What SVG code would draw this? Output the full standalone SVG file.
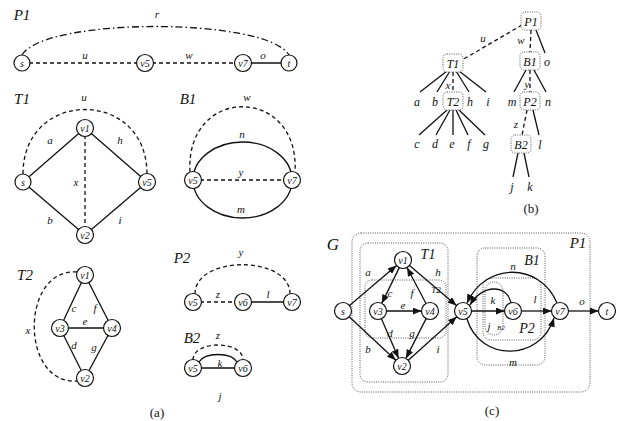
<svg xmlns="http://www.w3.org/2000/svg" width="619" height="421" viewBox="0 0 619 421">
<style>
.n circle{fill:#fff;stroke:#111;stroke-width:1.2}
.n text,.t{font-family:"Liberation Serif",serif;font-style:italic;fill:#111;text-anchor:middle}
.n text{font-size:10px}
.tn text{font-size:12px}
.e{fill:none;stroke:#111;stroke-width:1.3}
.d{stroke-dasharray:4,3}
.dd{stroke-dasharray:7,3,1.5,3}
.box{fill:#fff;stroke:#555;stroke-width:1;stroke-dasharray:1,1.3}
.cl{fill:none;stroke:#555;stroke-width:1;stroke-dasharray:1,1.3}
.l{font-size:11px}
.s{font-size:15px}
.cap{font-family:"Liberation Serif",serif;font-size:13px;fill:#111;text-anchor:middle}
</style>
<defs>
<marker id="ar" viewBox="0 0 10 8" refX="10" refY="4" markerWidth="9" markerHeight="7" markerUnits="userSpaceOnUse" orient="auto"><path d="M0,0 L10,4 L0,8 z" fill="#111"/></marker>
</defs>
<rect width="619" height="421" fill="#fff"/>

<!-- ========== (a) ========== -->
<g id="a-labels">
<text class="t s" x="22" y="20">P1</text>
<text class="t l" x="157" y="18">r</text>
<text class="t l" x="85" y="59">u</text>
<text class="t l" x="189" y="59">w</text>
<text class="t l" x="263" y="59">o</text>
<text class="t s" x="22" y="104">T1</text>
<text class="t l" x="84" y="101">u</text>
<text class="t l" x="50" y="144">a</text>
<text class="t l" x="120" y="144">h</text>
<text class="t l" x="76" y="186">x</text>
<text class="t l" x="50" y="224">b</text>
<text class="t l" x="120" y="224">i</text>
<text class="t s" x="188" y="104">B1</text>
<text class="t l" x="247" y="101">w</text>
<text class="t l" x="242" y="138">n</text>
<text class="t l" x="241" y="176">y</text>
<text class="t l" x="241" y="213">m</text>
<text class="t s" x="25" y="280">T2</text>
<text class="t l" x="74" y="312">c</text>
<text class="t l" x="95" y="312">f</text>
<text class="t l" x="85" y="325">e</text>
<text class="t l" x="74" y="349">d</text>
<text class="t l" x="94" y="351">g</text>
<text class="t l" x="28" y="334">x</text>
<text class="t s" x="182" y="263">P2</text>
<text class="t l" x="241" y="256">y</text>
<text class="t l" x="218" y="298">z</text>
<text class="t l" x="268" y="298">l</text>
<text class="t s" x="192" y="343">B2</text>
<text class="t l" x="218" y="339">z</text>
<text class="t l" x="220" y="367">k</text>
<text class="t l" x="220" y="400">j</text>
<text class="cap" x="157" y="417">(a)</text>
</g>

<g id="a-connectors">
<path class="e dd" d="M22,55 C45,17 266,17 289,55"/>
<line class="e d" x1="22" y1="63" x2="145" y2="63"/>
<line class="e d" x1="145" y1="63" x2="243" y2="63"/>
<line class="e" x1="243" y1="63" x2="289" y2="63"/>
<path class="e d" d="M23,174 C23,88 147,88 147,174"/>
<line class="e" x1="23" y1="182" x2="85" y2="128"/>
<line class="e" x1="85" y1="128" x2="147" y2="182"/>
<line class="e" x1="23" y1="182" x2="85" y2="235"/>
<line class="e" x1="85" y1="235" x2="147" y2="182"/>
<line class="e d" x1="85" y1="128" x2="85" y2="235"/>
<path class="e d" d="M190,172 C185,85 300,85 295,172"/>
<ellipse class="e" cx="242.5" cy="180" rx="49.5" ry="38"/>
<line class="e d" x1="193" y1="180" x2="292" y2="180"/>
<path class="e d" d="M77,272 C20,268 20,385 77,381"/>
<line class="e" x1="85" y1="275" x2="60" y2="328"/>
<line class="e" x1="85" y1="275" x2="112" y2="328"/>
<line class="e" x1="60" y1="328" x2="112" y2="328"/>
<line class="e" x1="60" y1="328" x2="85" y2="378"/>
<line class="e" x1="112" y1="328" x2="85" y2="378"/>
<path class="e d" d="M195,294 C195,255 290,255 290,294"/>
<line class="e d" x1="193" y1="302" x2="243" y2="302"/>
<line class="e" x1="243" y1="302" x2="292" y2="302"/>
<path class="e d" d="M193,360 C193,340 243,340 243,360"/>
<path class="e" d="M199,362 C205,352 231,352 237,362"/>
<line class="e" x1="193" y1="368" x2="243" y2="368"/>
</g>

<g id="a-p1-s" class="n"><circle cx="22" cy="63" r="8"/><text x="22" y="66.5">s</text></g>
<g id="a-p1-v5" class="n"><circle cx="145" cy="63" r="8.5"/><text x="145" y="66.5">v5</text></g>
<g id="a-p1-v7" class="n"><circle cx="243" cy="63" r="8.5"/><text x="243" y="66.5">v7</text></g>
<g id="a-p1-t" class="n"><circle cx="289" cy="63" r="8"/><text x="289" y="66.5">t</text></g>
<g id="a-t1-s" class="n"><circle cx="23" cy="182" r="8"/><text x="23" y="185.5">s</text></g>
<g id="a-t1-v1" class="n"><circle cx="85" cy="128" r="8.5"/><text x="85" y="131.5">v1</text></g>
<g id="a-t1-v5" class="n"><circle cx="147" cy="182" r="8.5"/><text x="147" y="185.5">v5</text></g>
<g id="a-t1-v2" class="n"><circle cx="85" cy="235" r="8.5"/><text x="85" y="238.5">v2</text></g>
<g id="a-b1-v5" class="n"><circle cx="193" cy="180" r="8.5"/><text x="193" y="183.5">v5</text></g>
<g id="a-b1-v7" class="n"><circle cx="292" cy="180" r="8.5"/><text x="292" y="183.5">v7</text></g>
<g id="a-t2-v1" class="n"><circle cx="85" cy="275" r="8.5"/><text x="85" y="278.5">v1</text></g>
<g id="a-t2-v3" class="n"><circle cx="60" cy="328" r="8.5"/><text x="60" y="331.5">v3</text></g>
<g id="a-t2-v4" class="n"><circle cx="112" cy="328" r="8.5"/><text x="112" y="331.5">v4</text></g>
<g id="a-t2-v2" class="n"><circle cx="85" cy="378" r="8.5"/><text x="85" y="381.5">v2</text></g>
<g id="a-p2-v5" class="n"><circle cx="193" cy="302" r="8.5"/><text x="193" y="305.5">v5</text></g>
<g id="a-p2-v6" class="n"><circle cx="243" cy="302" r="8.5"/><text x="243" y="305.5">v6</text></g>
<g id="a-p2-v7" class="n"><circle cx="292" cy="302" r="8.5"/><text x="292" y="305.5">v7</text></g>
<g id="a-b2-v5" class="n"><circle cx="193" cy="368" r="8.5"/><text x="193" y="371.5">v5</text></g>
<g id="a-b2-v6" class="n"><circle cx="243" cy="368" r="8.5"/><text x="243" y="371.5">v6</text></g>

<!-- ========== (b) ========== -->
<g id="b-connectors">
<line class="e d" x1="522" y1="25" x2="462" y2="60"/>
<line class="e d" x1="531" y1="30" x2="530" y2="52"/>
<line class="e" x1="536" y1="30" x2="545" y2="53"/>
<line class="e" x1="447" y1="71" x2="420" y2="92"/>
<line class="e" x1="450" y1="71" x2="437" y2="92"/>
<line class="e d" x1="453" y1="72" x2="453" y2="92"/>
<line class="e" x1="456" y1="71" x2="469" y2="92"/>
<line class="e" x1="459" y1="71" x2="486" y2="92"/>
<line class="e" x1="447" y1="110" x2="419" y2="135"/>
<line class="e" x1="450" y1="110" x2="436" y2="135"/>
<line class="e" x1="453" y1="110" x2="453" y2="135"/>
<line class="e" x1="456" y1="110" x2="468" y2="135"/>
<line class="e" x1="459" y1="110" x2="485" y2="135"/>
<line class="e" x1="526" y1="70" x2="514" y2="92"/>
<line class="e d" x1="530" y1="70" x2="530" y2="92"/>
<line class="e" x1="534" y1="70" x2="546" y2="92"/>
<line class="e d" x1="527" y1="110" x2="522" y2="135"/>
<line class="e" x1="533" y1="110" x2="539" y2="135"/>
<line class="e" x1="518" y1="153" x2="513" y2="177"/>
<line class="e" x1="524" y1="153" x2="529" y2="177"/>
</g>
<g id="b-labels">
<text class="t l" x="483" y="42">u</text>
<text class="t l" x="521" y="44">w</text>
<text class="t l" x="448" y="89">x</text>
<text class="t l" x="527" y="88">y</text>
<text class="t l" x="516" y="128">z</text>
<text class="cap" x="531" y="213">(b)</text>
</g>
<g id="b-P1" class="n tn"><rect class="box" x="521" y="12" width="20" height="18" rx="4"/><text x="531" y="25.5">P1</text></g>
<g id="b-T1" class="n tn"><rect class="box" x="443" y="54" width="20" height="18" rx="4"/><text x="453" y="67.5">T1</text></g>
<g id="b-B1" class="n tn"><rect class="box" x="520" y="52" width="20" height="18" rx="4"/><text x="530" y="65.5">B1</text></g>
<g id="b-T2" class="n tn"><rect class="box" x="443" y="92" width="20" height="18" rx="4"/><text x="453" y="105.5">T2</text></g>
<g id="b-P2" class="n tn"><rect class="box" x="520" y="92" width="20" height="18" rx="4"/><text x="530" y="105.5">P2</text></g>
<g id="b-B2" class="n tn"><rect class="box" x="511" y="135" width="20" height="18" rx="4"/><text x="521" y="148.5">B2</text></g>
<g id="b-o" class="n tn"><text x="547" y="65.5">o</text></g>
<g id="b-a" class="n tn"><text x="417" y="105.5">a</text></g>
<g id="b-b" class="n tn"><text x="435" y="105.5">b</text></g>
<g id="b-h" class="n tn"><text x="470" y="105.5">h</text></g>
<g id="b-i" class="n tn"><text x="488" y="105.5">i</text></g>
<g id="b-m" class="n tn"><text x="512" y="105.5">m</text></g>
<g id="b-n" class="n tn"><text x="548" y="105.5">n</text></g>
<g id="b-c" class="n tn"><text x="417" y="147.5">c</text></g>
<g id="b-d" class="n tn"><text x="435" y="147.5">d</text></g>
<g id="b-e" class="n tn"><text x="452" y="147.5">e</text></g>
<g id="b-f" class="n tn"><text x="469" y="147.5">f</text></g>
<g id="b-g" class="n tn"><text x="486" y="147.5">g</text></g>
<g id="b-l" class="n tn"><text x="540" y="148.5">l</text></g>
<g id="b-j" class="n tn"><text x="512" y="190.5">j</text></g>
<g id="b-k" class="n tn"><text x="530" y="190.5">k</text></g>

<!-- ========== (c) ========== -->
<g id="c-clusters">
<rect id="c-P1" class="cl" x="352" y="233" width="238" height="159" rx="9"/>
<rect id="c-T1" class="cl" x="360" y="243" width="88" height="139" rx="8"/>
<rect id="c-T2" class="cl" x="365" y="280" width="81" height="58" rx="7"/>
<rect id="c-B1" class="cl" x="477" y="248" width="68" height="117" rx="8"/>
<rect id="c-P2" class="cl" x="483" y="278" width="58" height="62" rx="8"/>
<rect id="c-B2" class="cl" x="485" y="282" width="18" height="53" rx="9"/>
</g>
<g id="c-labels">
<text class="t" font-size="17" x="333" y="250">G</text>
<text class="t s" x="578" y="248">P1</text>
<text class="t" font-size="14" x="428" y="259">T1</text>
<text class="t" font-size="9" x="436" y="293">T2</text>
<text class="t" font-size="14" x="532" y="265">B1</text>
<text class="t" font-size="14" x="527" y="333">P2</text>
<text class="t" font-size="7" x="501" y="330">B2</text>
<text class="t l" x="368" y="276">a</text>
<text class="t l" x="368" y="353">b</text>
<text class="t l" x="390" y="297">c</text>
<text class="t l" x="412" y="297">f</text>
<text class="t l" x="403" y="309">e</text>
<text class="t l" x="390" y="337">d</text>
<text class="t l" x="412" y="337">g</text>
<text class="t l" x="438" y="276">h</text>
<text class="t l" x="438" y="353">i</text>
<text class="t l" x="513" y="270">n</text>
<text class="t l" x="493" y="304">k</text>
<text class="t l" x="489" y="330">j</text>
<text class="t l" x="535" y="303">l</text>
<text class="t l" x="582" y="305">o</text>
<text class="t l" x="513" y="366">m</text>
<text class="cap" x="492" y="415">(c)</text>
</g>
<g id="c-connectors" marker-end="url(#ar)">
<line class="e" x1="349.5" y1="305.5" x2="396.5" y2="265.5"/>
<line class="e" x1="349.2" y1="316.8" x2="395.8" y2="360.2"/>
<line class="e" x1="399.3" y1="267.6" x2="381.7" y2="303.4"/>
<line class="e" x1="426" y1="303.5" x2="407" y2="267.5"/>
<line class="e" x1="386.5" y1="311" x2="421.5" y2="311"/>
<line class="e" x1="381.4" y1="318.8" x2="398.6" y2="358.2"/>
<line class="e" x1="426.1" y1="318.6" x2="405.9" y2="358.4"/>
<line class="e" x1="409.5" y1="265.5" x2="456.5" y2="305.5"/>
<line class="e" x1="408.3" y1="360.3" x2="456.7" y2="316.7"/>
<line class="e" x1="471.5" y1="311" x2="504.5" y2="311"/>
<line class="e" x1="521.5" y1="311" x2="551.5" y2="311"/>
<line class="e" x1="568.5" y1="311" x2="598.5" y2="311"/>
<path class="e" d="M557,303 C540,262 485,262 467,303"/>
<path class="e" d="M467,319 C480,362 540,362 554,318"/>
<path class="e" d="M511,303 C507,284 482,284 470,305"/>
</g>
<g id="c-s" class="n"><circle cx="343" cy="311" r="8.5"/><text x="343" y="314.5">s</text></g>
<g id="c-v1" class="n"><circle cx="403" cy="260" r="8.5"/><text x="403" y="263.5">v1</text></g>
<g id="c-v3" class="n"><circle cx="378" cy="311" r="8.5"/><text x="378" y="314.5">v3</text></g>
<g id="c-v4" class="n"><circle cx="430" cy="311" r="8.5"/><text x="430" y="314.5">v4</text></g>
<g id="c-v2" class="n"><circle cx="402" cy="366" r="8.5"/><text x="402" y="369.5">v2</text></g>
<g id="c-v5" class="n"><circle cx="463" cy="311" r="8.5"/><text x="463" y="314.5">v5</text></g>
<g id="c-v6" class="n"><circle cx="513" cy="311" r="8.5"/><text x="513" y="314.5">v6</text></g>
<g id="c-v7" class="n"><circle cx="560" cy="311" r="8.5"/><text x="560" y="314.5">v7</text></g>
<g id="c-t" class="n"><circle cx="607" cy="311" r="8.5"/><text x="607" y="314.5">t</text></g>
</svg>
